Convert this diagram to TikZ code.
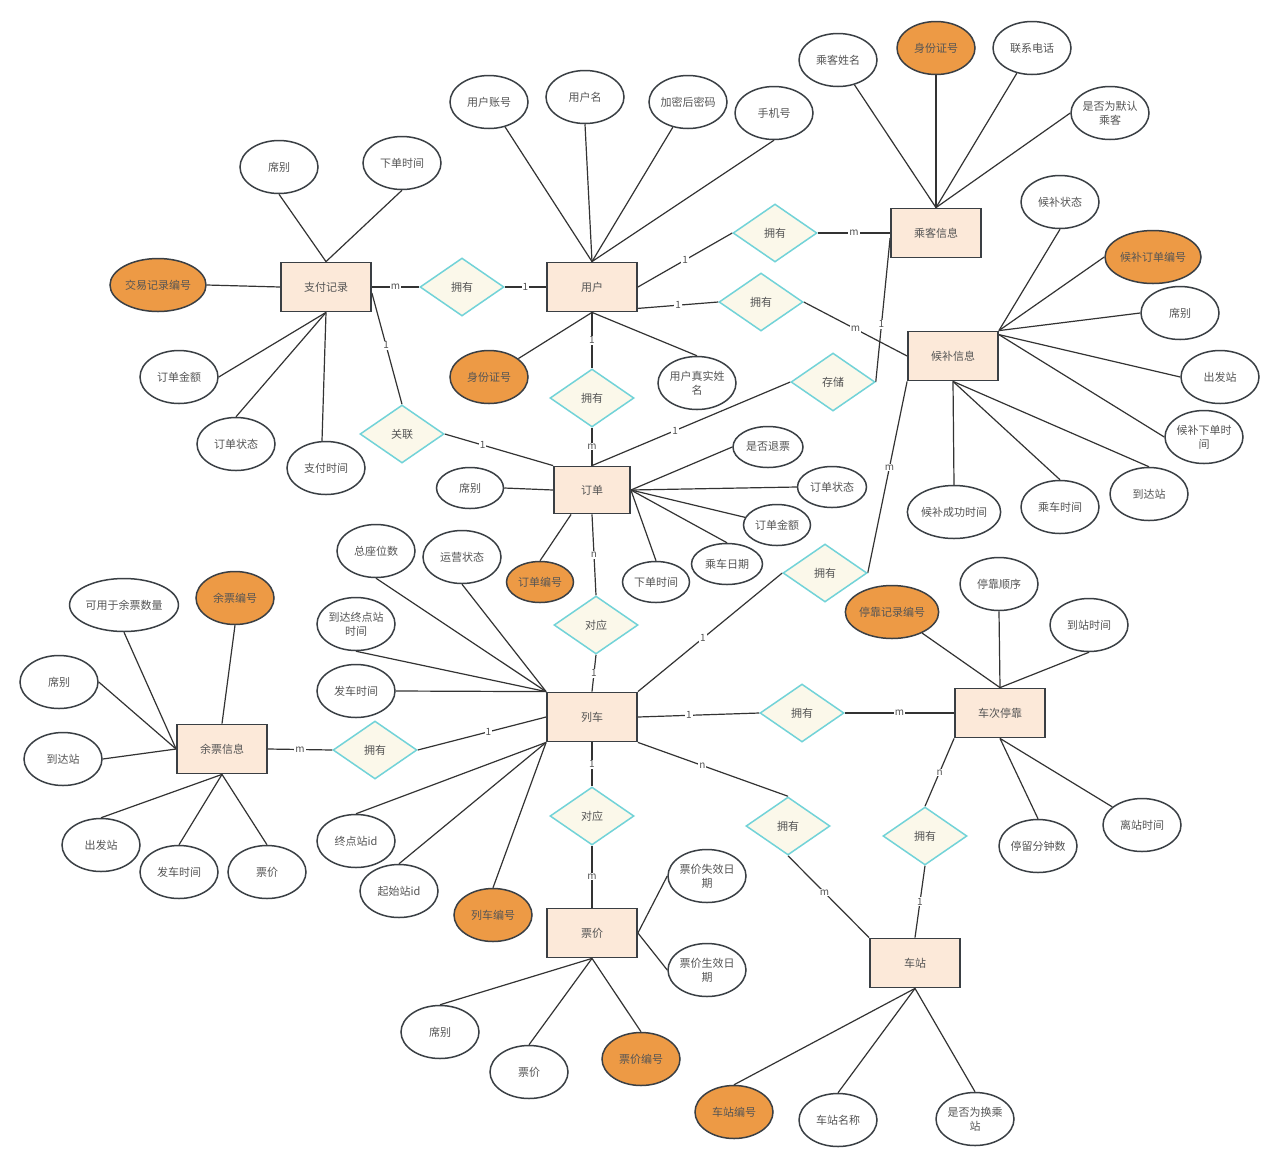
\documentclass[tikz,border=0pt]{standalone}
\usepackage{fontspec}
\newfontfamily\cjk{Noto Sans CJK SC}
\usetikzlibrary{shapes.geometric,calc}
\definecolor{entfill}{HTML}{FCE9D9}
\definecolor{entdraw}{HTML}{3A3F44}
\definecolor{keyfill}{HTML}{ED9A45}
\definecolor{relfill}{HTML}{FBF8EA}
\definecolor{reldraw}{HTML}{72D3D8}
\definecolor{txt}{HTML}{555555}
\definecolor{ln}{HTML}{333333}
\pgfdeclarelayer{bg}
\pgfdeclarelayer{edges}
\pgfsetlayers{bg,edges,main}
\begin{document}
\begin{tikzpicture}[x=1pt,y=-1pt,
 every node/.style={font=\cjk\fontsize{11}{14}\selectfont, text=txt},
 ent/.style={rectangle, draw=entdraw, fill=entfill, line width=1.8pt, minimum width=90pt, minimum height=49pt, inner sep=0pt},
 attr/.style={ellipse, draw=entdraw, fill=white, line width=1.5pt, minimum width=78pt, minimum height=53pt, inner sep=0pt, align=center},
 sattr/.style={attr, minimum width=67pt, minimum height=41pt},
 key/.style={fill=keyfill},
 rel/.style={diamond, draw=reldraw, fill=relfill, line width=1.5pt, minimum width=84pt, minimum height=58pt, inner sep=0pt},
 lk/.style={draw=ln, line width=1.2pt},
 card/.style={fill=white, inner sep=1pt, font=\cjk\fontsize{10}{12}\selectfont}
]
\useasboundingbox (0,0) rectangle (1280,1168);
% entities
\node[ent] (zf) at (326,287) {支付记录};
\node[ent] (yh) at (592,287) {用户};
\node[ent] (ck) at (936,233) {乘客信息};
\node[ent] (hb) at (953,356) {候补信息};
\node[ent, minimum width=76pt, minimum height=47pt] (dd) at (592,490) {订单};
\node[ent] (lc) at (592,717) {列车};
\node[ent] (yp) at (222,749) {余票信息};
\node[ent] (tk) at (1000,713) {车次停靠};
\node[ent] (pj) at (592,933) {票价};
\node[ent] (cz) at (915,963) {车站};
% relationships
\node[rel] (r1) at (462,287) {拥有};
\node[rel] (r2) at (775,233) {拥有};
\node[rel] (r3) at (761,302) {拥有};
\node[rel] (r4) at (592,398) {拥有};
\node[rel] (r5) at (833,382) {存储};
\node[rel] (r6) at (402,434) {关联};
\node[rel] (r7) at (596,625) {对应};
\node[rel] (r8) at (825,573) {拥有};
\node[rel] (r9) at (375,750) {拥有};
\node[rel] (r10) at (802,713) {拥有};
\node[rel] (r11) at (592,816) {对应};
\node[rel] (r12) at (788,826) {拥有};
\node[rel] (r13) at (925,836) {拥有};
% user attributes
\node[attr] (a1) at (489,102) {用户账号};
\node[attr] (a2) at (585,97) {用户名};
\node[attr] (a3) at (688,102) {加密后密码};
\node[attr] (a4) at (774,113) {手机号};
\node[attr,key] (a5) at (489,377) {身份证号};
\node[attr] (a6) at (697,383) {用户真实姓\\名};
% passenger attributes
\node[attr] (b1) at (838,60) {乘客姓名};
\node[attr,key] (b2) at (936,48) {身份证号};
\node[attr] (b3) at (1032,48) {联系电话};
\node[attr] (b4) at (1110,113) {是否为默认\\乘客};
% payment attributes
\node[attr] (c1) at (279,167) {席别};
\node[attr] (c2) at (402,163) {下单时间};
\node[attr,key,minimum width=96pt] (c3) at (158,285) {交易记录编号};
\node[attr] (c4) at (179,377) {订单金额};
\node[attr] (c5) at (236,444) {订单状态};
\node[attr] (c6) at (326,468) {支付时间};
% waiting-list attributes
\node[attr] (d1) at (1060,202) {候补状态};
\node[attr,key,minimum width=96pt] (d2) at (1153,257) {候补订单编号};
\node[attr] (d3) at (1180,313) {席别};
\node[attr] (d4) at (1220,377) {出发站};
\node[attr] (d5) at (1204,437) {候补下单时\\间};
\node[attr] (d6) at (1149,494) {到达站};
\node[attr] (d7) at (1060,507) {乘车时间};
\node[attr,minimum width=90pt] (d8) at (954,512) {候补成功时间};
% order attributes
\node[sattr] (e1) at (470,488) {席别};
\node[sattr,key] (e2) at (540,582) {订单编号};
\node[sattr] (e3) at (656,582) {下单时间};
\node[sattr,minimum width=71pt] (e4) at (727,564) {乘车日期};
\node[sattr] (e5) at (777,525) {订单金额};
\node[sattr,minimum width=69pt] (e6) at (832,487) {订单状态};
\node[sattr,minimum width=70pt] (e7) at (768,447) {是否退票};
% train attributes
\node[attr] (f1) at (376,551) {总座位数};
\node[attr] (f2) at (462,557) {运营状态};
\node[attr] (f3) at (356,624) {到达终点站\\时间};
\node[attr] (f4) at (356,691) {发车时间};
\node[attr] (f5) at (356,841) {终点站id};
\node[attr] (f6) at (399,891) {起始站id};
\node[attr,key] (f7) at (493,915) {列车编号};
% remaining ticket attributes
\node[attr,minimum width=95pt] (g1) at (124,605) {可用于余票数量};
\node[attr,key] (g2) at (235,598) {余票编号};
\node[attr] (g3) at (59,682) {席别};
\node[attr] (g4) at (63,759) {到达站};
\node[attr] (g5) at (101,845) {出发站};
\node[attr] (g6) at (179,872) {发车时间};
\node[attr] (g7) at (267,872) {票价};
% stop attributes
\node[attr,key,minimum width=89pt] (h1) at (892,612) {停靠记录编号};
\node[attr] (h2) at (999,584) {停靠顺序};
\node[attr] (h3) at (1089,625) {到站时间};
\node[attr] (h4) at (1038,846) {停留分钟数};
\node[attr] (h5) at (1142,825) {离站时间};
% price attributes
\node[attr] (i1) at (707,876) {票价失效日\\期};
\node[attr] (i2) at (707,970) {票价生效日\\期};
\node[attr] (i3) at (440,1032) {席别};
\node[attr] (i4) at (529,1072) {票价};
\node[attr,key] (i5) at (641,1059) {票价编号};
% station attributes
\node[attr,key] (j1) at (734,1112) {车站编号};
\node[attr] (j2) at (838,1120) {车站名称};
\node[attr] (j3) at (975,1119) {是否为换乘\\站};

\begin{pgfonlayer}{bg}
\fill[white] (0,0) rectangle (1280,1168);
\end{pgfonlayer}
\begin{pgfonlayer}{edges}
% relationship connectors
\draw[lk] (zf.east) -- node[card]{m} (r1.west);
\draw[lk] (r1.east) -- node[card]{1} (yh.west);
\draw[lk] (yh.east) -- node[card]{1} (r2.west);
\draw[lk] (r2.east) -- node[card]{m} (ck.west);
\draw[lk] ($(yh.south east)+(0,-4)$) -- node[card]{1} (r3.west);
\draw[lk] (r3.east) -- node[card]{m} (hb.west);
\draw[lk] (yh.south) -- node[card]{1} (r4.north);
\draw[lk] (r4.south) -- node[card]{m} (dd.north);
\draw[lk] (dd.north) -- node[card,pos=0.42]{1} (r5.west);
\draw[lk] (r5.east) -- node[card,pos=0.4]{1} ($(ck.west)+(0,5)$);
\draw[lk] ($(zf.east)+(0,6)$) -- node[card,pos=0.47]{1} (r6.north);
\draw[lk] (r6.east) -- node[card,pos=0.35]{1} (dd.north west);
\draw[lk] (dd.south) -- node[card]{n} (r7.north);
\draw[lk] (r7.south) -- node[card]{1} (lc.north);
\draw[lk] (lc.north east) -- node[card,pos=0.45]{1} (r8.west);
\draw[lk] (r8.east) -- node[card,pos=0.55]{m} (hb.south west);
\draw[lk] (yp.east) -- node[card]{m} (r9.west);
\draw[lk] (r9.east) -- node[card,pos=0.55]{1} (lc.west);
\draw[lk] (lc.east) -- node[card,pos=0.42]{1} (r10.west);
\draw[lk] (r10.east) -- node[card]{m} (tk.west);
\draw[lk] (lc.south) -- node[card]{1} (r11.north);
\draw[lk] (r11.south) -- node[card]{m} (pj.north);
\draw[lk] (lc.south east) -- node[card,pos=0.43]{n} (r12.north);
\draw[lk] (r12.south) -- node[card,pos=0.45]{m} (cz.north west);
\draw[lk] (tk.south west) -- node[card]{n} (r13.north);
\draw[lk] (r13.south) -- node[card]{1} (cz.north);
% attribute connectors
\draw[lk] (a1) -- (yh.north);
\draw[lk] (a2.south) -- (yh.north);
\draw[lk] (a3) -- (yh.north);
\draw[lk] (a4.south) -- (yh.north);
\draw[lk] (a5) -- (yh.south);
\draw[lk] (a6.north) -- (yh.south);
\draw[lk] (b1) -- (ck.north);
\draw[lk] (b2.south) -- (ck.north);
\draw[lk] (b3) -- (ck.north);
\draw[lk] (b4.west) -- (ck.north);
\draw[lk] (c1.south) -- (zf.north);
\draw[lk] (c2.south) -- (zf.north);
\draw[lk] (c3.east) -- (zf.west);
\draw[lk] (c4.east) -- (zf.south);
\draw[lk] (c5.north) -- (zf.south);
\draw[lk] ($(c6.north)+(-4,0)$) -- (zf.south);
\draw[lk] (d1.south) -- (hb.north east);
\draw[lk] (d2.west) -- (hb.north east);
\draw[lk] (d3.west) -- (hb.north east);
\draw[lk] (d4.west) -- ($(hb.north east)+(0,4)$);
\draw[lk] (d5.west) -- ($(hb.north east)+(0,4)$);
\draw[lk] (d6.north) -- (hb.south);
\draw[lk] (d7.north) -- (hb.south);
\draw[lk] (d8.north) -- (hb.south);
\draw[lk] (e1.east) -- (dd.west);
\draw[lk] (e2.north) -- ($(dd.south west)+(18,0)$);
\draw[lk] (e3.north) -- (dd.east);
\draw[lk] (e4.north) -- (dd.east);
\draw[lk] (e5) -- (dd.east);
\draw[lk] (e6.west) -- (dd.east);
\draw[lk] (e7.west) -- (dd.east);
\draw[lk] (f1.south) -- (lc.north west);
\draw[lk] (f2.south) -- (lc.north west);
\draw[lk] (f3.south) -- (lc.north west);
\draw[lk] (f4.east) -- (lc.north west);
\draw[lk] (f5.north) -- (lc.south west);
\draw[lk] (f6.north) -- (lc.south west);
\draw[lk] (f7.north) -- (lc.south west);
\draw[lk] (g1.south) -- (yp.west);
\draw[lk] (g3.east) -- (yp.west);
\draw[lk] (g4.east) -- (yp.west);
\draw[lk] (g2.south) -- (yp.north);
\draw[lk] (g5.north) -- (yp.south);
\draw[lk] (g6.north) -- (yp.south);
\draw[lk] (g7.north) -- (yp.south);
\draw[lk] (h1) -- (tk.north);
\draw[lk] (h2.south) -- (tk.north);
\draw[lk] (h3.south) -- (tk.north);
\draw[lk] (h4.north) -- (tk.south);
\draw[lk] (h5) -- (tk.south);
\draw[lk] (i1.west) -- (pj.east);
\draw[lk] (i2.west) -- (pj.east);
\draw[lk] (i3.north) -- (pj.south);
\draw[lk] (i4.north) -- (pj.south);
\draw[lk] (i5.north) -- (pj.south);
\draw[lk] (j1.north) -- (cz.south);
\draw[lk] (j2.north) -- (cz.south);
\draw[lk] (j3.north) -- (cz.south);
\end{pgfonlayer}
\end{tikzpicture}
\end{document}
